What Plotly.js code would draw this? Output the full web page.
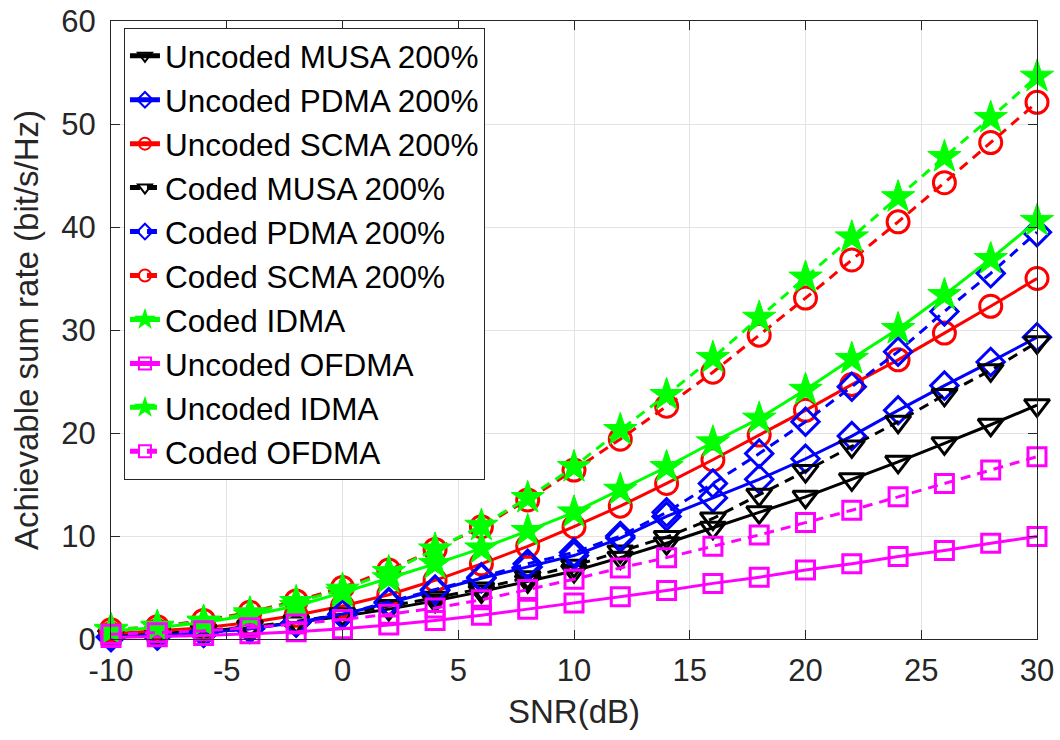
<!DOCTYPE html>
<html>
<head>
<meta charset="utf-8">
<script src="https://cdn.plot.ly/plotly-3.0.1.min.js"></script>
<style>
  html, body { margin: 0; padding: 0; background: #ffffff; }
  #chart { width: 1060px; height: 740px; }
</style>
</head>
<body>
<div id="chart"></div>
<script>
// SNR axis (dB)
const snr = [-10, -8, -6, -4, -2, 0, 2, 4, 6, 8, 10, 12, 14, 16, 18, 20, 22, 24, 26, 28, 30];

// Tick labels
const xTickVals = [-10, -5, 0, 5, 10, 15, 20, 25, 30];
const xTickText = ['-10', '-5', '0', '5', '10', '15', '20', '25', '30'];
const yTickVals = [0, 10, 20, 30, 40, 50, 60];
const yTickText = ['0', '10', '20', '30', '40', '50', '60'];

// Achievable sum rate (bit/s/Hz)
const uncodedMUSA  = [0.3, 0.5, 0.8, 1.1, 1.6, 2.2, 2.9, 3.7, 4.6, 5.6, 6.6, 7.9, 9.3, 10.8, 12.3, 13.8, 15.5, 17.2, 19.0, 20.8, 22.7];
const uncodedPDMA  = [0.2, 0.35, 0.6, 1.0, 1.6, 2.4, 3.5, 4.7, 5.9, 7.0, 8.1, 9.8, 11.9, 13.7, 15.5, 17.5, 19.7, 22.2, 24.6, 26.9, 29.3];
const uncodedSCMA  = [0.5, 0.8, 1.1, 1.6, 2.3, 3.2, 4.3, 5.7, 7.3, 9.0, 10.9, 12.9, 15.1, 17.4, 19.8, 22.2, 24.7, 27.1, 29.7, 32.3, 35.0];
const codedMUSA    = [0.3, 0.5, 0.8, 1.2, 1.7, 2.4, 3.2, 4.0, 4.9, 6.0, 7.1, 8.5, 9.9, 11.7, 14.0, 16.3, 18.7, 21.1, 23.7, 26.1, 28.8];
const codedPDMA    = [0.2, 0.35, 0.6, 1.0, 1.6, 2.4, 3.6, 4.8, 6.0, 7.3, 8.4, 10.0, 12.3, 15.1, 18.0, 21.1, 24.5, 27.9, 31.8, 35.5, 39.5];
const codedSCMA    = [0.9, 1.2, 1.8, 2.6, 3.7, 5.0, 6.7, 8.7, 10.9, 13.5, 16.4, 19.4, 22.6, 25.9, 29.5, 33.1, 36.8, 40.5, 44.3, 48.2, 52.1];
const codedIDMA    = [0.8, 1.1, 1.6, 2.3, 3.2, 4.5, 5.9, 7.3, 8.8, 10.5, 12.3, 14.5, 16.7, 19.1, 21.4, 24.2, 27.2, 30.1, 33.4, 36.9, 40.6];
const uncodedOFDMA = [0.15, 0.22, 0.35, 0.5, 0.7, 1.0, 1.35, 1.8, 2.3, 2.9, 3.5, 4.1, 4.7, 5.4, 6.0, 6.7, 7.3, 8.0, 8.6, 9.3, 9.95];
const uncodedIDMA  = [0.9, 1.2, 1.7, 2.5, 3.6, 4.8, 6.5, 8.7, 11.0, 13.7, 16.7, 20.3, 23.7, 27.3, 31.2, 35.1, 39.0, 42.9, 46.8, 50.6, 54.6];
const codedOFDMA   = [0.45, 0.6, 0.8, 1.1, 1.45, 1.9, 2.4, 3.0, 3.8, 4.8, 5.8, 6.9, 7.9, 9.0, 10.1, 11.3, 12.5, 13.8, 15.1, 16.4, 17.7];

const seriesNames = [
  'Uncoded MUSA 200%', 'Uncoded PDMA 200%', 'Uncoded SCMA 200%',
  'Coded MUSA 200%', 'Coded PDMA 200%', 'Coded SCMA 200%',
  'Coded IDMA', 'Uncoded OFDMA', 'Uncoded IDMA', 'Coded OFDMA'
];
const seriesValues = [
  uncodedMUSA, uncodedPDMA, uncodedSCMA,
  codedMUSA, codedPDMA, codedSCMA,
  codedIDMA, uncodedOFDMA, uncodedIDMA, codedOFDMA
];
const seriesColors = ['#000000', '#0000ff', '#ff0000', '#000000', '#0000ff', '#ff0000', '#00ff00', '#ff00ff', '#00ff00', '#ff00ff'];
const seriesSymbols = ['triangle-down-open', 'diamond-open', 'circle-open', 'triangle-down-open', 'diamond-open', 'circle-open', 'star', 'square-open', 'star', 'square-open'];
const seriesDash = ['solid', 'solid', 'solid', '10px,7px', '10px,7px', '10px,7px', 'solid', 'solid', '10px,7px', '10px,7px'];
const seriesSizes = [22, 21, 22, 22, 21, 22, 25, 18, 25, 18];
const seriesMarkerLine = [3, 3, 3, 3, 3, 3, 1, 3, 1, 3];

const traces = seriesNames.map((name, i) => ({
  x: snr,
  y: seriesValues[i],
  name: name,
  type: 'scatter',
  mode: 'lines+markers',
  cliponaxis: false,
  line: { color: seriesColors[i], width: 3, dash: seriesDash[i] },
  marker: {
    symbol: seriesSymbols[i],
    size: seriesSizes[i],
    color: seriesColors[i],
    line: { color: seriesColors[i], width: seriesMarkerLine[i] }
  }
}));

const fam = 'Liberation Sans, Arial, Helvetica, sans-serif';
const tickFont = { family: fam, size: 31, color: '#262626' };
const titleFont = { family: fam, size: 33, color: '#262626' };

const layout = {
  width: 1060,
  height: 740,
  paper_bgcolor: '#ffffff',
  plot_bgcolor: '#ffffff',
  margin: { l: 111, r: 23, t: 21, b: 101 },
  font: tickFont,
  showlegend: true,
  legend: {
    x: 0.014, y: 0.989, xanchor: 'left', yanchor: 'top',
    bgcolor: '#ffffff', bordercolor: '#262626', borderwidth: 1,
    font: { family: fam, size: 31.5, color: '#000000' },
    itemsizing: 'constant',
    entrywidthmode: 'pixels', entrywidth: 372
  },
  xaxis: {
    range: [-10, 30],
    tickmode: 'array', tickvals: xTickVals, ticktext: xTickText,
    showgrid: true, gridcolor: '#e3e3e3', gridwidth: 1,
    zeroline: false,
    showline: true, linecolor: '#262626', linewidth: 1, mirror: 'ticks',
    ticks: 'inside', ticklen: 9, tickcolor: '#262626', tickwidth: 1,
    tickfont: tickFont,
    ticklabelstandoff: 4,
    title: { text: 'SNR(dB)', font: titleFont, standoff: 12 }
  },
  yaxis: {
    range: [0, 60],
    tickmode: 'array', tickvals: yTickVals, ticktext: yTickText,
    showgrid: true, gridcolor: '#e3e3e3', gridwidth: 1,
    zeroline: false,
    showline: true, linecolor: '#262626', linewidth: 1, mirror: 'ticks',
    ticks: 'inside', ticklen: 9, tickcolor: '#262626', tickwidth: 1,
    tickfont: tickFont,
    ticklabelstandoff: 8,
    title: { text: 'Achievable sum rate (bit/s/Hz)', font: titleFont, standoff: 12 }
  }
};

Plotly.newPlot('chart', traces, layout, { staticPlot: true, displayModeBar: false });
</script>
</body>
</html>
